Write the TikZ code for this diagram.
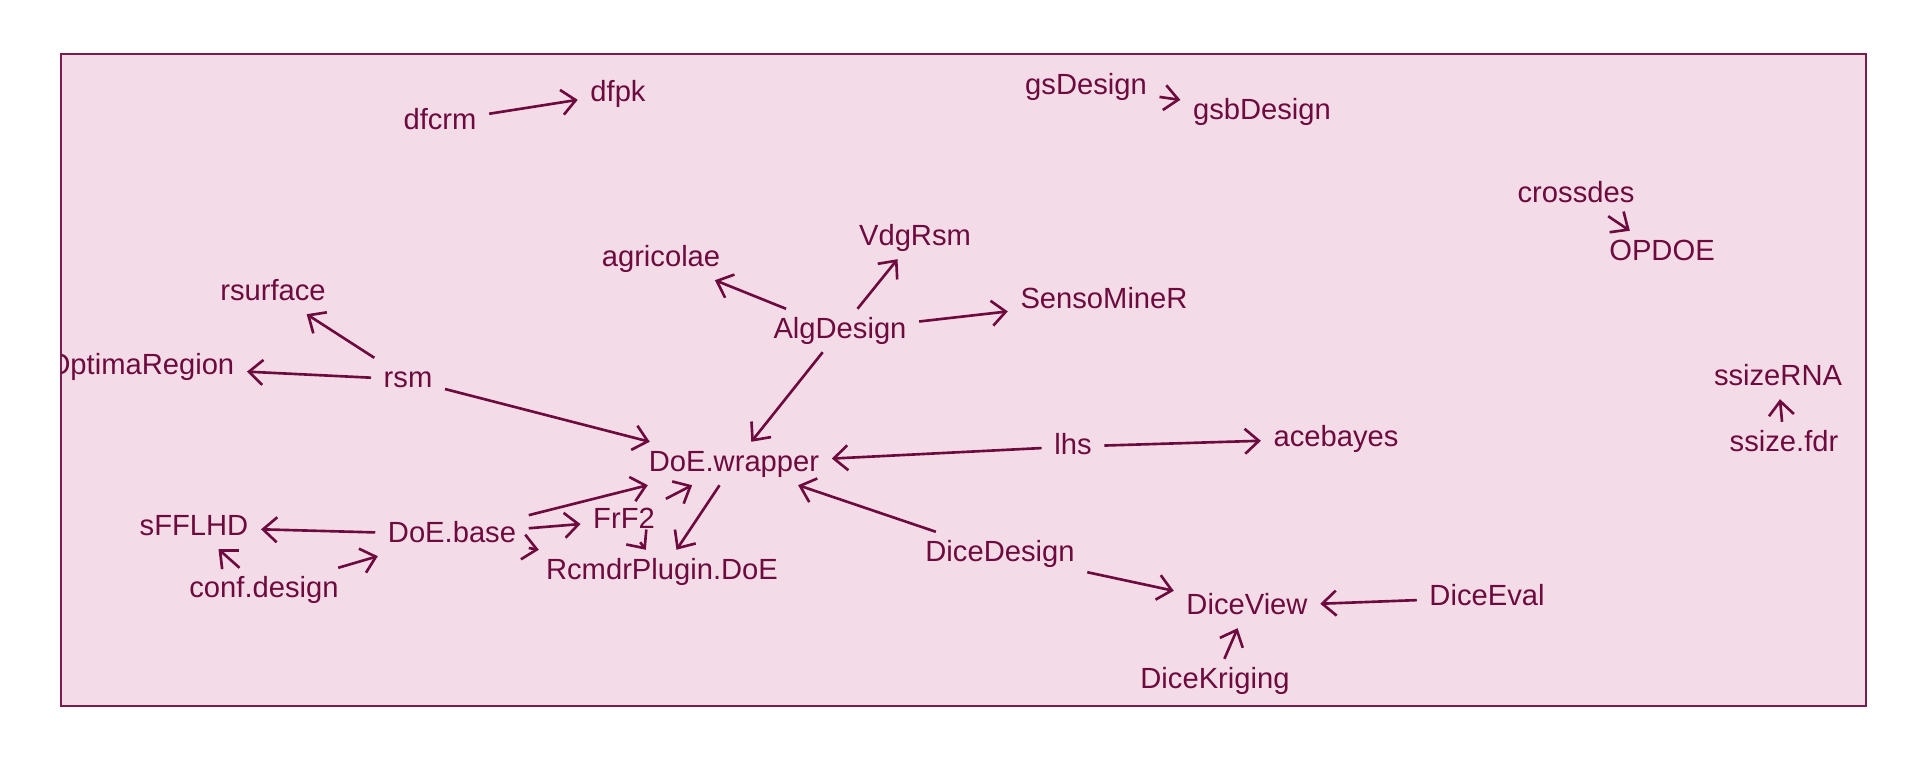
\documentclass[tikz,border=0pt]{standalone}
\usepackage{fontspec}
\setmainfont{Liberation Sans}
\usetikzlibrary{arrows.meta}

\definecolor{pkgred}{HTML}{6E0B3E}
\definecolor{pkgframe}{HTML}{7A1C4C}
\definecolor{pkgfill}{HTML}{F3DCE8}

\begin{document}
\begin{tikzpicture}[
    pkg/.style={text=pkgred, font=\fontsize{8.3}{10}\selectfont,
        inner xsep=0.12cm, inner ysep=0.07cm, yshift=-0.025cm,
        text height=0.22cm, text depth=0.06cm},
    edge/.style={draw=pkgred, line width=0.75pt,
        -{Straight Barb[length=1.4mm,width=2.5mm]}}
]

\useasboundingbox (0,0) rectangle (19.2,7.68);

% Cadre
\draw[pkgframe, fill=pkgfill, line width=0.6pt] (0.61,0.62) rectangle (18.66,7.14);

\begin{scope}
\clip (0.61,0.62) rectangle (18.66,7.14);

% Paquets
\node[pkg] (dfcrm) at (4.40,6.49) {dfcrm};
\node[pkg] (dfpk) at (6.18,6.77) {dfpk};
\node[pkg] (gsdesign) at (10.86,6.84) {gsDesign};
\node[pkg] (gsbdesign) at (12.62,6.59) {gsbDesign};
\node[pkg] (crossdes) at (15.76,5.76) {crossdes};
\node[pkg] (opdoe) at (16.62,5.18) {OPDOE};
\node[pkg] (agricolae) at (6.61,5.12) {agricolae};
\node[pkg] (vdgrsm) at (9.15,5.33) {VdgRsm};
\node[pkg] (sensominer) at (11.04,4.70) {SensoMineR};
\node[pkg] (algdesign) at (8.40,4.40) {AlgDesign};
\node[pkg] (rsurface) at (2.73,4.78) {rsurface};
\node[pkg] (optimaregion) at (1.41,4.04) {OptimaRegion};
\node[pkg] (rsm) at (4.08,3.91) {rsm};
\node[pkg] (doewrapper) at (7.34,3.07) {DoE.wrapper};
\node[pkg] (lhs) at (10.73,3.24) {lhs};
\node[pkg] (acebayes) at (13.36,3.32) {acebayes};
\node[pkg] (ssizerna) at (17.78,3.93) {ssizeRNA};
\node[pkg] (ssizefdr) at (17.84,3.27) {ssize.fdr};
\node[pkg] (sfflhd) at (1.94,2.43) {sFFLHD};
\node[pkg] (doebase) at (4.52,2.36) {DoE.base};
\node[pkg] (frf2) at (6.24,2.50) {FrF2};
\node[pkg] (rcmdrplugin) at (6.62,1.99) {RcmdrPlugin.DoE};
\node[pkg] (confdesign) at (2.64,1.81) {conf.design};
\node[pkg] (dicedesign) at (10.00,2.17) {DiceDesign};
\node[pkg] (diceview) at (12.47,1.64) {DiceView};
\node[pkg] (diceeval) at (14.87,1.73) {DiceEval};
\node[pkg] (dicekriging) at (12.15,0.90) {DiceKriging};

% Dépendances
\foreach \a/\b in {
dfcrm/dfpk, gsdesign/gsbdesign, crossdes/opdoe,
algdesign/agricolae, algdesign/vdgrsm, algdesign/sensominer, algdesign/doewrapper,
rsm/rsurface, rsm/optimaregion, rsm/doewrapper,
lhs/doewrapper, lhs/acebayes,
ssizefdr/ssizerna,
doebase/sfflhd, doebase/doewrapper, doebase/frf2, doebase/rcmdrplugin,
confdesign/sfflhd, confdesign/doebase,
frf2/doewrapper, frf2/rcmdrplugin, doewrapper/rcmdrplugin,
dicedesign/doewrapper, dicedesign/diceview,
diceeval/diceview, dicekriging/diceview}
{
\draw[edge] (\a) -- (\b);
}

\end{scope}

\end{tikzpicture}
\end{document}
